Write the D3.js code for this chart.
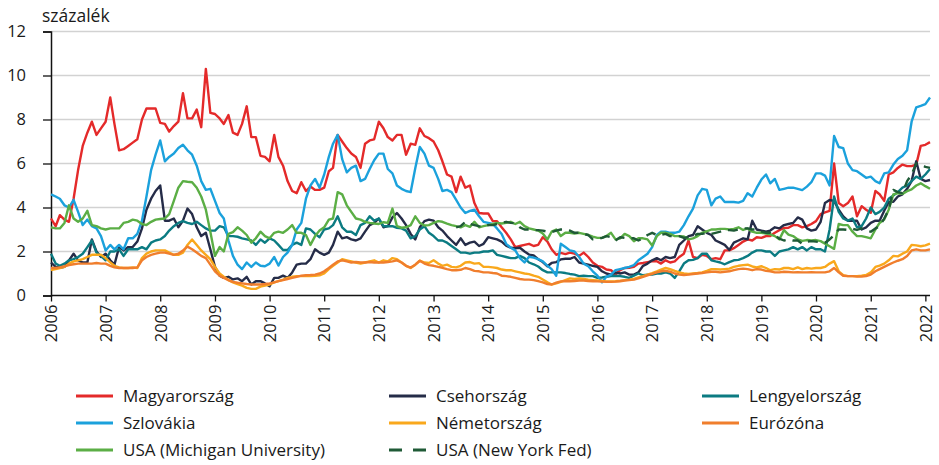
<!DOCTYPE html>
<html>
<head>
<meta charset="utf-8">
<script src="https://cdn.jsdelivr.net/npm/d3@7"></script>
<style>
  html, body { margin: 0; padding: 0; background: #fff; }
  svg { display: block; font-family: "Open Sans", "DejaVu Sans", sans-serif; }
</style>
</head>
<body>
<svg id="chart" width="939" height="465"></svg>
<script>
// ---- DATA (monthly, Jan 2006 – Feb 2022) ----
const startYear = 2006;
const yTicks = [0, 2, 4, 6, 8, 10, 12];
const xTickYears = [2006,2007,2008,2009,2010,2011,2012,2013,2014,2015,2016,2017,2018,2019,2020,2021,2022];
const unitLabel = "százalék";

const hungary = [
  3.5,3.15,3.65,3.45,3.35,4.4,5.7,6.8,7.4,7.9,7.3,7.6,
  7.9,9.0,7.8,6.6,6.65,6.8,6.95,7.1,8.0,8.5,8.5,8.5,
  7.85,7.8,7.45,7.7,7.9,9.2,8.05,8.05,8.45,7.65,10.3,8.3,
  8.25,8.05,7.8,8.2,7.4,7.3,7.8,8.6,7.2,7.2,6.35,6.3,
  6.1,7.3,6.3,5.9,5.2,4.75,4.65,5.15,4.75,4.95,4.8,4.8,
  4.9,5.65,5.8,7.3,7.0,6.7,6.45,6.3,5.8,6.9,7.05,7.1,
  7.9,7.6,7.2,7.05,7.3,7.3,6.4,6.9,6.85,7.6,7.25,7.15,
  7.0,6.6,6.1,5.5,5.4,4.7,5.4,4.9,5.0,4.2,3.75,3.73,
  3.73,3.38,3.38,3.1,2.85,2.55,2.2,2.25,2.3,2.35,2.25,2.3,
  2.65,2.45,2.1,1.85,1.94,1.88,1.95,1.9,1.8,1.95,1.75,1.5,
  1.35,1.3,1.18,1.15,0.95,1.15,1.25,1.26,1.3,1.45,1.48,1.52,
  1.56,1.56,1.45,1.6,1.5,1.55,1.75,1.9,2.5,1.75,1.7,1.85,
  1.8,1.65,1.7,1.65,2.05,2.05,2.15,2.3,2.45,2.55,2.5,2.65,
  2.62,2.7,2.7,2.85,2.97,3.07,3.08,3.2,3.2,3.1,3.15,3.25,
  3.38,3.7,3.78,3.85,6.0,4.2,4.06,4.2,4.5,3.6,4.06,3.9,
  3.76,4.75,4.6,4.3,5.5,5.6,5.8,5.95,5.88,5.88,5.95,6.8,
  6.85,6.97
];
const czechia = [
  1.5,1.3,1.26,1.3,1.6,1.9,1.6,1.5,1.5,2.55,2.0,1.75,
  1.9,1.6,1.4,2.2,2.05,2.2,2.2,2.45,3.05,3.9,4.4,4.75,
  5.0,3.4,3.4,3.5,3.1,3.4,3.95,3.7,3.1,2.7,2.85,2.1,
  1.3,0.9,0.8,0.85,0.73,0.78,0.65,0.85,0.5,0.65,0.65,0.55,
  0.42,0.8,0.8,0.9,0.8,1.05,1.4,1.45,1.45,1.65,2.1,1.95,
  1.85,1.95,2.3,2.9,2.6,2.65,2.55,2.5,2.6,2.9,3.2,3.3,
  3.5,3.1,3.15,3.55,3.75,3.5,3.2,2.8,2.55,3.1,3.38,3.45,
  3.4,3.1,2.95,2.7,2.5,2.3,2.6,2.3,2.4,2.45,2.25,2.35,
  2.65,2.6,2.55,2.45,2.27,2.17,2.15,2.17,2.0,1.86,1.82,1.65,
  1.52,1.33,1.48,1.52,1.64,1.67,1.67,1.75,1.5,1.45,1.4,1.35,
  1.3,1.1,1.0,0.95,1.05,1.0,1.05,0.95,0.95,1.05,1.35,1.45,
  1.6,1.7,1.6,1.75,1.7,1.75,2.3,2.5,2.7,2.75,3.15,3.0,
  2.85,2.75,2.5,2.4,2.3,2.07,2.4,2.5,2.6,2.55,3.4,3.0,
  2.95,2.9,2.95,3.1,3.05,3.2,3.25,3.3,3.55,3.45,3.05,2.95,
  3.0,3.35,4.2,4.34,4.3,3.9,3.6,3.4,3.4,3.4,3.0,3.1,
  3.3,3.4,3.4,3.85,4.25,4.26,4.5,4.6,4.85,5.2,6.1,5.3,
  5.2,5.25
];
const poland = [
  1.9,1.45,1.35,1.45,1.6,1.65,1.75,1.9,2.2,2.5,1.95,1.8,
  1.6,2.0,2.0,2.1,1.8,2.1,2.1,2.1,2.2,2.1,2.4,2.5,
  2.55,2.7,2.95,3.15,3.3,3.38,3.3,3.25,3.35,3.2,3.05,2.95,
  2.95,3.15,3.1,2.7,2.7,2.67,2.6,2.55,2.5,2.3,2.55,2.4,
  2.6,2.5,2.3,2.07,2.07,2.3,2.4,2.3,3.05,3.0,2.8,2.65,
  3.0,3.05,3.2,3.6,3.1,2.9,2.9,2.75,3.2,3.3,3.6,3.4,
  3.5,3.15,3.15,3.15,3.08,3.05,2.95,2.6,2.7,3.0,3.15,2.85,
  2.7,2.5,2.5,2.4,2.25,2.1,1.95,1.95,1.9,1.95,1.95,2.0,
  2.0,2.05,1.85,1.8,1.75,1.7,1.7,1.8,1.7,1.5,1.42,1.32,
  1.15,1.05,1.05,1.05,1.05,1.02,0.98,0.95,0.88,0.9,0.88,0.88,
  0.8,0.82,0.85,0.88,0.9,0.88,0.85,0.8,0.9,1.0,0.92,0.95,
  0.95,1.0,1.0,1.05,1.0,0.8,1.1,1.45,1.6,1.62,1.7,1.9,
  1.9,1.6,1.55,1.5,1.42,1.52,1.6,1.62,1.7,1.8,1.95,2.05,
  2.05,2.0,2.0,1.8,2.0,2.05,2.1,2.2,2.1,2.2,2.05,2.2,
  2.1,2.1,2.0,3.0,4.5,3.8,3.5,3.4,3.5,3.1,3.15,3.5,
  4.0,3.7,3.8,4.0,4.4,4.55,4.7,4.9,5.0,5.2,5.4,5.3,
  5.5,5.75
];
const slovakia = [
  4.6,4.5,4.4,4.1,4.0,4.35,3.8,3.2,3.45,3.15,3.05,2.7,
  2.05,2.3,2.1,2.3,2.1,2.6,2.6,2.8,3.4,4.5,5.7,6.4,
  7.05,6.1,6.3,6.45,6.7,6.85,6.6,6.4,5.9,5.2,4.8,4.85,
  4.3,3.75,3.5,2.5,1.8,1.4,1.2,1.5,1.3,1.5,1.35,1.33,
  1.45,1.75,1.36,1.75,1.95,2.3,3.0,3.3,4.4,5.0,5.3,4.9,
  5.5,6.3,6.9,7.3,6.2,5.6,5.8,5.9,5.2,5.3,5.75,6.15,
  6.45,6.45,5.75,5.55,5.0,4.85,4.75,4.7,5.8,6.75,6.45,5.9,
  5.8,5.3,4.75,4.8,4.7,4.35,4.0,3.75,3.85,3.9,3.6,3.35,
  3.3,3.25,3.05,2.8,2.35,2.17,2.05,1.7,1.5,1.76,1.72,1.65,
  1.55,1.35,1.2,0.9,2.35,2.2,2.05,2.0,1.75,1.45,1.33,1.1,
  0.9,0.6,0.85,0.95,1.15,1.2,1.25,1.3,1.38,1.6,1.75,1.9,
  2.2,2.75,2.9,2.9,2.85,2.85,2.9,3.2,3.6,3.95,4.55,4.85,
  4.8,4.1,4.4,4.5,4.25,4.25,4.25,4.22,4.3,4.65,4.5,4.9,
  5.27,5.5,5.1,5.3,4.8,4.85,4.9,4.9,4.85,4.79,4.95,5.15,
  5.55,5.55,5.45,5.0,7.25,6.75,6.7,6.0,5.7,5.65,5.5,5.35,
  5.4,5.2,5.1,5.55,5.6,5.95,6.2,6.35,6.6,7.9,8.55,8.62,
  8.7,9.0
];
const germany = [
  1.15,1.2,1.25,1.3,1.45,1.55,1.6,1.65,1.75,1.85,1.85,1.85,
  1.7,1.5,1.35,1.28,1.25,1.25,1.28,1.25,1.7,1.9,2.0,2.05,
  2.05,2.05,1.95,1.85,1.85,1.95,2.3,2.55,2.3,2.05,1.85,1.65,
  1.3,1.0,0.85,0.7,0.6,0.52,0.45,0.35,0.3,0.3,0.4,0.45,
  0.5,0.6,0.65,0.72,0.8,0.85,0.88,0.88,0.88,0.88,0.9,0.92,
  1.0,1.2,1.35,1.5,1.65,1.6,1.55,1.5,1.45,1.5,1.55,1.6,
  1.5,1.6,1.55,1.7,1.65,1.5,1.35,1.25,1.4,1.58,1.5,1.48,
  1.6,1.45,1.35,1.4,1.3,1.28,1.35,1.5,1.52,1.45,1.47,1.3,
  1.3,1.28,1.25,1.18,1.15,1.15,1.1,1.05,1.0,0.97,0.9,0.85,
  0.73,0.6,0.5,0.55,0.62,0.7,0.78,0.75,0.78,0.75,0.72,0.7,
  0.68,0.66,0.64,0.64,0.65,0.67,0.7,0.72,0.75,0.82,0.88,0.95,
  1.02,1.1,1.18,1.25,1.2,1.12,1.05,1.0,0.98,1.0,1.02,1.05,
  1.12,1.2,1.2,1.18,1.2,1.22,1.3,1.35,1.38,1.4,1.32,1.28,
  1.33,1.25,1.15,1.2,1.18,1.25,1.25,1.2,1.28,1.2,1.25,1.22,
  1.25,1.25,1.3,1.45,1.56,1.1,0.92,0.88,0.88,0.88,0.9,0.93,
  1.05,1.3,1.36,1.45,1.6,1.8,1.78,1.9,2.0,2.3,2.28,2.24,
  2.28,2.36
];
const eurozone = [
  1.25,1.25,1.28,1.33,1.38,1.42,1.45,1.45,1.45,1.45,1.48,1.45,
  1.45,1.35,1.28,1.25,1.25,1.25,1.25,1.28,1.6,1.75,1.85,1.9,
  1.95,1.95,1.9,1.85,1.9,2.05,2.22,2.1,1.95,1.8,1.7,1.4,
  1.1,0.9,0.8,0.7,0.62,0.58,0.55,0.52,0.5,0.5,0.5,0.52,
  0.55,0.6,0.65,0.7,0.75,0.8,0.85,0.9,0.92,0.93,0.95,1.0,
  1.1,1.25,1.4,1.55,1.6,1.55,1.5,1.52,1.5,1.5,1.52,1.5,
  1.5,1.5,1.52,1.55,1.6,1.5,1.35,1.27,1.4,1.58,1.45,1.38,
  1.35,1.3,1.26,1.2,1.15,1.15,1.17,1.25,1.2,1.12,1.1,1.05,
  1.05,1.02,1.0,0.9,0.88,0.85,0.8,0.75,0.72,0.72,0.7,0.65,
  0.6,0.52,0.5,0.58,0.64,0.65,0.65,0.66,0.68,0.68,0.66,0.65,
  0.64,0.63,0.62,0.62,0.63,0.65,0.68,0.7,0.72,0.78,0.85,0.92,
  0.98,1.05,1.1,1.12,1.08,1.0,0.95,0.93,0.95,0.98,1.0,1.02,
  1.05,1.08,1.08,1.05,1.08,1.1,1.15,1.2,1.22,1.2,1.15,1.2,
  1.18,1.12,1.1,1.05,1.05,1.08,1.07,1.05,1.06,1.05,1.05,1.06,
  1.05,1.05,1.05,1.1,1.25,1.05,0.9,0.88,0.88,0.86,0.86,0.88,
  0.95,1.1,1.2,1.3,1.4,1.5,1.58,1.65,1.8,2.05,2.1,2.05,
  2.05,2.1
];
const usaMichigan = [
  3.1,3.05,3.05,3.3,4.1,3.5,3.35,3.5,3.85,3.2,3.15,3.05,
  3.0,3.05,3.05,3.05,3.3,3.35,3.45,3.4,3.25,3.2,3.35,3.45,
  3.48,3.5,3.7,4.3,4.9,5.2,5.17,5.15,4.9,4.5,3.9,2.9,
  1.8,2.2,2.0,2.8,2.88,3.1,2.95,2.75,2.4,2.6,2.9,2.7,
  2.6,2.85,2.9,2.85,3.0,3.2,2.85,2.85,2.75,2.3,2.7,2.95,
  3.1,3.45,3.5,4.7,4.6,4.1,3.8,3.5,3.45,3.35,3.3,3.27,
  3.25,3.33,3.3,3.95,3.15,3.08,3.1,3.2,3.6,3.3,3.18,3.2,
  3.3,3.38,3.35,3.27,3.2,3.15,3.1,3.2,3.12,3.35,3.1,3.15,
  3.2,3.25,3.3,3.27,3.3,3.35,3.25,3.35,3.15,3.05,3.0,2.95,
  2.82,2.55,2.9,3.0,2.7,2.85,2.85,2.82,2.85,2.8,2.75,2.68,
  2.62,2.62,2.7,2.85,2.55,2.6,2.8,2.7,2.47,2.6,2.6,2.55,
  2.27,2.7,2.85,2.85,2.8,2.7,2.7,2.68,2.55,2.6,2.7,2.85,
  2.92,3.0,3.0,3.03,3.03,3.0,3.03,3.1,2.98,3.05,2.9,2.85,
  2.85,2.82,2.78,2.7,2.55,2.97,2.77,2.7,2.55,2.48,2.52,2.5,
  2.52,2.47,2.36,2.24,2.12,3.25,3.2,3.2,2.9,2.7,2.7,2.65,
  2.6,3.0,3.3,3.45,3.9,4.6,4.65,4.62,4.74,4.82,5.0,5.1,
  4.97,4.85
];
const usaNYFed = [
  null,null,null,null,null,null,null,null,null,null,null,null,
  null,null,null,null,null,null,null,null,null,null,null,null,
  null,null,null,null,null,null,null,null,null,null,null,null,
  null,null,null,null,null,null,null,null,null,null,null,null,
  null,null,null,null,null,null,null,null,null,null,null,null,
  null,null,null,null,null,null,null,null,null,null,null,null,
  null,null,null,null,null,null,null,null,null,null,null,null,
  null,null,null,null,null,3.1,3.15,3.35,3.25,3.2,3.15,3.12,
  3.2,3.2,3.25,3.3,3.35,3.3,3.28,3.1,3.0,3.0,2.97,2.97,
  2.95,2.9,2.88,2.95,3.0,3.0,2.95,2.85,2.85,2.8,2.75,2.55,
  2.55,2.62,2.7,2.65,2.5,2.65,2.62,2.6,2.6,2.5,2.6,2.75,
  2.85,2.75,2.75,2.8,2.7,2.7,2.7,2.62,2.65,2.7,2.8,2.8,
  2.85,2.8,2.85,2.9,2.97,2.97,2.95,3.0,3.05,3.05,3.0,3.0,
  2.9,2.85,2.85,2.75,2.58,2.5,2.55,2.5,2.5,2.35,2.45,2.47,
  2.45,2.42,2.4,2.55,2.75,3.0,3.0,2.98,3.03,2.98,3.05,2.95,
  2.9,3.05,3.15,3.5,3.9,4.8,4.7,4.65,5.2,5.5,6.0,5.95,
  5.85,5.8
];

const seriesNames = ["Magyarország","Csehország","Lengyelország","Szlovákia","Németország","Eurózóna","USA (Michigan University)","USA (New York Fed)"];
const seriesValues = [hungary, czechia, poland, slovakia, germany, eurozone, usaMichigan, usaNYFed];
const seriesColors = ["#e42a2a","#252c48","#0b7b82","#1ba1dc","#f9a81c","#f07e2d","#5bae45","#1f5a36"];
const seriesDashed = [false,false,false,false,false,false,false,true];

// ---- LAYOUT ----
const svg = d3.select("#chart");

const x = d3.scaleTime()
  .domain([new Date(startYear, 0, 1), new Date(2022, 1, 1)])
  .range([51, 930]);
const y = d3.scaleLinear().domain([0, 12]).range([295.5, 31.5]);

const dateAt = i => new Date(startYear, i, 1);

// gridlines
svg.append("g").selectAll("line")
  .data(yTicks.filter(d => d > 0))
  .join("line")
  .attr("x1", 51).attr("x2", 930)
  .attr("y1", d => y(d)).attr("y2", d => y(d))
  .attr("stroke", "#d2d2d2").attr("stroke-width", 1.4);

// title
svg.append("text").attr("x", 42).attr("y", 22)
  .attr("font-size", 17.5).attr("fill", "#1a1a1a").text(unitLabel);

// y axis
const yAxis = d3.axisLeft(y).tickValues(yTicks).tickSize(8).tickPadding(17).tickFormat(d3.format("d"));
const gy = svg.append("g").attr("transform", "translate(51,0)").call(yAxis);
gy.select(".domain").attr("stroke", "#111").attr("stroke-width", 1.5);
gy.selectAll(".tick line").attr("stroke", "#111").attr("stroke-width", 1.3);
gy.selectAll(".tick text").attr("font-size", 16.5).attr("fill", "#1a1a1a")
  .attr("font-family", "'Open Sans', sans-serif");

// lines
const line = d3.line()
  .defined(d => d.v !== null)
  .x(d => x(d.date)).y(d => y(d.v));

const gLines = svg.append("g");
seriesValues.forEach((vals, si) => {
  const pts = vals.map((v, i) => ({date: dateAt(i), v: v}));
  gLines.append("path")
    .datum(pts)
    .attr("fill", "none")
    .attr("stroke", seriesColors[si])
    .attr("stroke-width", 2.4)
    .attr("stroke-linejoin", "round")
    .attr("stroke-dasharray", seriesDashed[si] ? "10,7" : null)
    .attr("d", line);
});

// x axis
const xAxis = d3.axisBottom(x)
  .tickValues(xTickYears.map(yr => new Date(yr, 0, 1)))
  .tickSize(6).tickFormat(d3.timeFormat("%Y"));
const gx = svg.append("g").attr("transform", "translate(0,295.5)").call(xAxis);
gx.select(".domain").attr("stroke", "#111").attr("stroke-width", 1.5).attr("d", "M51,0H930");
gx.selectAll(".tick line").attr("stroke", "#111").attr("stroke-width", 1.3);
gx.selectAll(".tick text")
  .attr("font-size", 16.5).attr("fill", "#1a1a1a")
  .attr("font-family", "'Open Sans', sans-serif")
  .attr("text-anchor", "end")
  .attr("transform", "rotate(-90)")
  .attr("x", -9).attr("y", 0).attr("dy", "0.35em");

// legend
const legCols = [76, 389, 702];
const legRows = [396, 423, 450];
const gLeg = svg.append("g");
seriesNames.forEach((name, i) => {
  const cx = legCols[i % 3], cy = legRows[Math.floor(i / 3)];
  gLeg.append("line")
    .attr("x1", cx).attr("x2", cx + 37).attr("y1", cy).attr("y2", cy)
    .attr("stroke", seriesColors[i]).attr("stroke-width", 3)
    .attr("stroke-dasharray", seriesDashed[i] ? "13,11" : null);
  gLeg.append("text")
    .attr("x", cx + 47).attr("y", cy).attr("dy", "0.35em")
    .attr("font-size", 17).attr("fill", "#1a1a1a")
    .text(name);
});
</script>
</body>
</html>
